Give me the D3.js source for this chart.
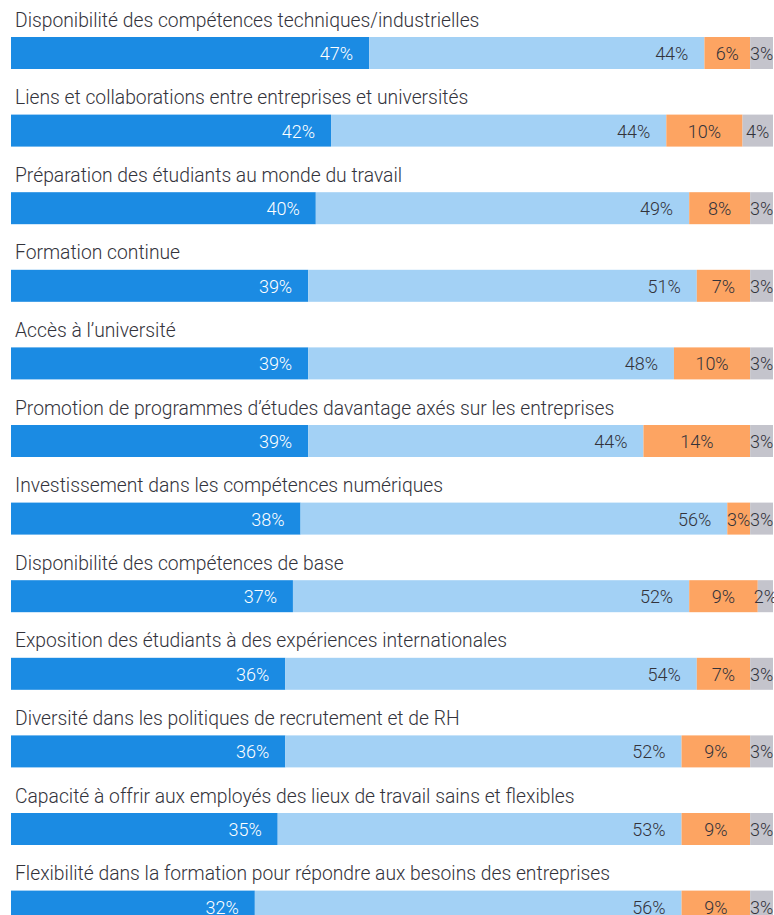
<!DOCTYPE html>
<html>
<head>
<meta charset="utf-8">
<script src="https://cdn.jsdelivr.net/npm/d3@7"></script>
<style>
  html, body { margin: 0; padding: 0; background: #fff; overflow: hidden; }
  svg { display: block; }
</style>
</head>
<body>
<div id="chart"></div>
<script>
const categories = [
    "Disponibilité des compétences techniques/industrielles",
    "Liens et collaborations entre entreprises et universités",
    "Préparation des étudiants au monde du travail",
    "Formation continue",
    "Accès à l’université",
    "Promotion de programmes d’études davantage axés sur les entreprises",
    "Investissement dans les compétences numériques",
    "Disponibilité des compétences de base",
    "Exposition des étudiants à des expériences internationales",
    "Diversité dans les politiques de recrutement et de RH",
    "Capacité à offrir aux employés des lieux de travail sains et flexibles",
    "Flexibilité dans la formation pour répondre aux besoins des entreprises"
];
const series1 = [47, 42, 40, 39, 39, 39, 38, 37, 36, 36, 35, 32];
const series2 = [44, 44, 49, 51, 48, 44, 56, 52, 54, 52, 53, 56];
const series3 = [6, 10, 8, 7, 10, 14, 3, 9, 7, 9, 9, 9];
const series4 = [3, 4, 3, 3, 3, 3, 3, 2, 3, 3, 3, 3];
const seriesNames = ["s1", "s2", "s3", "s4"];

const colors = ["#1b8be3", "#a3d1f5", "#fda462", "#c4c4cc"];
const textColors = ["#ffffff", "#33333b", "#33333b", "#33333b"];

const width = 774, height = 915;
const barTop = 37, step = 77.6, barH = 32;

const svg = d3.select("#chart")
    .append("svg")
    .attr("width", width)
    .attr("height", height);

const x = d3.scaleLinear()
    .domain([0, 100])
    .range([11, 773]);

const y = d3.scaleBand()
    .domain(categories)
    .range([barTop, barTop + step * categories.length]);

const rows = categories.map((c, i) => ({
    category: c,
    s1: series1[i], s2: series2[i], s3: series3[i], s4: series4[i]
}));

const stacked = d3.stack().keys(seriesNames)(rows);

// category labels above each bar
svg.selectAll("text.cat")
    .data(categories)
    .enter()
    .append("text")
    .attr("class", "cat")
    .attr("x", 15)
    .attr("y", d => y(d) - 10.5)
    .attr("font-family", "Roboto, sans-serif")
    .attr("font-weight", 300)
    .attr("font-size", 19.3)
    .attr("fill", "#33333b")
    .text(d => d);

// segments
const layers = svg.selectAll("g.layer")
    .data(stacked)
    .enter()
    .append("g")
    .attr("class", "layer");

layers.selectAll("rect")
    .data((d, i) => d.map(p => ({ p, i })))
    .enter()
    .append("rect")
    .attr("x", d => x(d.p[0]))
    .attr("y", d => y(d.p.data.category))
    .attr("width", d => x(d.p[1]) - x(d.p[0]))
    .attr("height", barH)
    .attr("fill", d => colors[d.i]);

// value labels: blue segments right aligned, the others centred
layers.selectAll("text")
    .data((d, i) => d.map(p => ({ p, i })))
    .enter()
    .append("text")
    .attr("x", d => d.i < 2 ? x(d.p[1]) - 16 : (x(d.p[0]) + x(d.p[1])) / 2)
    .attr("y", d => y(d.p.data.category) + barH / 2 + 7)
    .attr("text-anchor", d => d.i < 2 ? "end" : "middle")
    .attr("font-family", "Roboto, sans-serif")
    .attr("font-weight", 300)
    .attr("font-size", 18)
    .attr("fill", d => textColors[d.i])
    .text(d => (d.p[1] - d.p[0]) + "%");
</script>
</body>
</html>
